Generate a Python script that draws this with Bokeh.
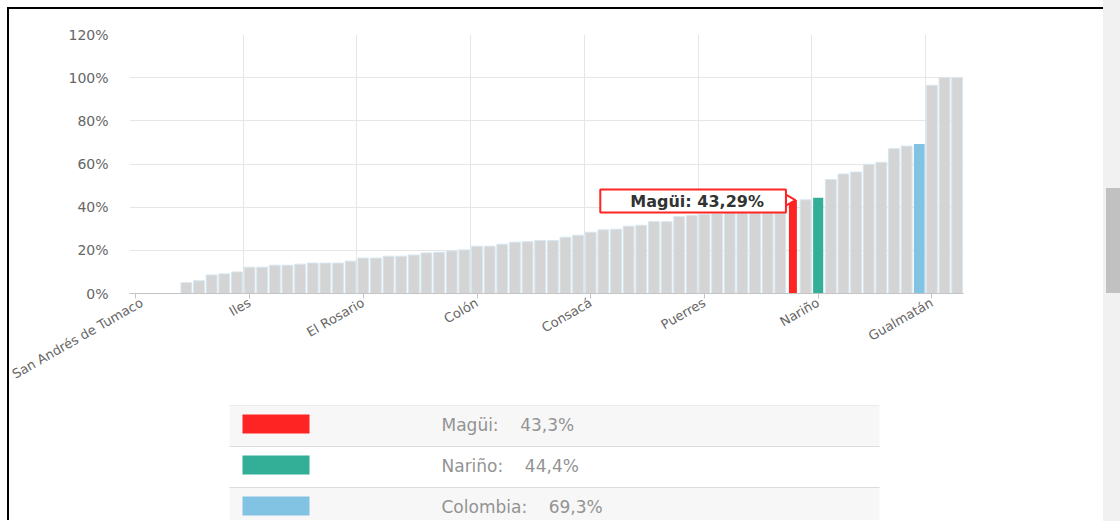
import math
from bokeh.plotting import figure
from bokeh.models import (FixedTicker, PrintfTickFormatter, Range1d, Label,
                          ColumnDataSource, Div)
from bokeh.layouts import column, row
from bokeh.embed import file_html
from bokeh.resources import INLINE
from bokeh.core.properties import value

# ---------------- data ----------------
# share (%) per territory, sorted ascending (66 categories: 64 municipalities, Nariño, Colombia)
values = [0, 0, 0, 0, 5.0, 5.9, 8.6, 9.1, 10.0, 12.2,
          12.2, 13.1, 13.1, 13.6, 14.1, 14.1, 14.1, 15.0, 16.4, 16.4,
          17.3, 17.3, 17.8, 18.8, 19.1, 19.8, 20.2, 21.9, 21.9, 22.8,
          23.8, 24.0, 24.5, 24.5, 26.1, 27.0, 28.4, 29.5, 29.8, 31.2,
          31.6, 33.3, 33.3, 35.6, 36.2, 36.7, 37.0, 37.9, 38.7, 39.6,
          40.6, 41.9, 43.29, 43.4, 44.4, 52.8, 55.4, 56.3, 59.8, 60.8,
          67.1, 68.3, 69.3, 96.5, 100.0, 100.0]

# visible axis labels (category index -> name)
label_idx = [0, 9, 18, 27, 36, 45, 54, 63]
label_names = ["San Andrés de Tumaco", "Iles", "El Rosario", "Colón",
               "Consacá", "Puerres", "Nariño", "Gualmatán"]

# highlighted entries
hl_names = ["Magüi", "Nariño", "Colombia"]
hl_idx = [52, 54, 62]
hl_colors = ["#ff2424", "#33ae97", "#82c3e4"]
hl_widths = [0.63, 0.8, 0.85]

y_ticks = [0, 20, 40, 60, 80, 100, 120]

FONT = "DejaVu Sans"

# ---------------- layout constants (page pixels) ----------------
ORIGIN = 9            # content starts after 7px margin + 2px border
FRAME_L, FRAME_R = 129, 963
W = 1103 - ORIGIN
MAIN_H = 405 - ORIGIN
LEG_TOP, LEG_BOT = 405, 520

# ---------------- main chart ----------------
p = figure(width=W, height=MAIN_H, output_backend="svg", toolbar_location=None,
           x_range=Range1d(-0.5, len(values) - 0.5), y_range=Range1d(0, 120),
           min_border_left=FRAME_L - ORIGIN, min_border_right=ORIGIN + W - FRAME_R,
           min_border_top=34 - ORIGIN, min_border_bottom=405 - 293)
p.outline_line_color = None
p.background_fill_color = "white"
p.border_fill_color = "white"

gray_x = [i for i in range(len(values)) if i not in hl_idx]
gray_src = ColumnDataSource(dict(x=gray_x, top=[values[i] for i in gray_x]))
p.vbar(x="x", top="top", width=0.86, bottom=0, source=gray_src,
       fill_color="#d4d4d4", line_color="#d6e7f1", line_width=1)

hl_src = ColumnDataSource(dict(x=hl_idx, top=[values[i] for i in hl_idx],
                               color=hl_colors, w=hl_widths))
p.vbar(x="x", top="top", width="w", bottom=0, source=hl_src,
       fill_color="color", line_color=None)

# axes
p.xaxis.ticker = FixedTicker(ticks=label_idx)
p.xaxis.major_label_overrides = {i: n for i, n in zip(label_idx, label_names)}
p.xaxis.major_label_orientation = 0.52
p.xaxis.major_label_text_font = FONT
p.xaxis.major_label_text_font_size = "13px"
p.xaxis.major_label_text_color = "#666666"
p.xaxis.axis_line_color = "#c4c4c4"
p.xaxis.major_tick_line_color = "#c4c4c4"
p.xaxis.major_tick_out = 5
p.xaxis.major_tick_in = 0
p.xaxis.minor_tick_line_color = None
p.xaxis.major_label_standoff = 3

p.yaxis.ticker = FixedTicker(ticks=y_ticks)
p.yaxis.formatter = PrintfTickFormatter(format="%d%%")
p.yaxis.major_label_text_font = FONT
p.yaxis.major_label_text_font_size = "14px"
p.yaxis.major_label_text_color = "#666666"
p.yaxis.axis_line_color = None
p.yaxis.major_tick_line_color = None
p.yaxis.minor_tick_line_color = None
p.yaxis.major_tick_out = 0
p.yaxis.major_label_standoff = 21

p.ygrid.ticker = FixedTicker(ticks=y_ticks)
p.ygrid.grid_line_color = "#e6e6e6"
p.xgrid.ticker = FixedTicker(ticks=[i - 0.5 for i in label_idx])
p.xgrid.grid_line_color = "#e6e6e6"

# tooltip for the first highlighted entry
t_i = hl_idx[0]
t_v = values[t_i]
t_text = f"{hl_names[0]}: " + f"{t_v:.2f}".replace(".", ",") + "%"
p.scatter(x=[t_i - 0.3], y=[t_v], marker="triangle", angle=-math.pi / 2,
          size=11, fill_color="white", line_color="#ff2424", line_width=2)
tip = Label(x=t_i - hl_widths[0] / 2, y=t_v, x_offset=-3, y_offset=-1,
            text=t_text, text_align="right", text_baseline="middle",
            text_font=FONT, text_font_size="16px", text_font_style="bold",
            text_color="#333333", background_fill_color="white",
            border_line_color="#ff2424", border_line_width=2,
            padding=dict(left=30, right=22, top=2, bottom=2))
p.add_layout(tip)

# ---------------- legend table (page-pixel coordinates) ----------------
lg = figure(width=W, height=LEG_BOT - LEG_TOP, output_backend="svg",
            toolbar_location=None,
            x_range=Range1d(FRAME_L, FRAME_R), y_range=Range1d(LEG_BOT, LEG_TOP),
            min_border_left=FRAME_L - ORIGIN, min_border_right=ORIGIN + W - FRAME_R,
            min_border_top=0, min_border_bottom=0)
lg.axis.visible = False
lg.grid.visible = False
lg.outline_line_color = None

row_h = 41
rows = list(range(len(hl_names)))
row_top = [LEG_TOP + r * row_h for r in rows]
row_bg = ["#f7f7f7" if r % 2 == 0 else "#ffffff" for r in rows]
lg.quad(left=229, right=879, top=row_top, bottom=[t + row_h for t in row_top],
        fill_color=row_bg, line_color=None)
lg.segment(x0=229, x1=879, y0=row_top, y1=row_top, line_color="#dcdcdc",
           line_width=1)
lg.quad(left=242, right=309, top=[t + 9 for t in row_top],
        bottom=[t + 28 for t in row_top], fill_color=hl_colors, line_color=None)
GAP = "\u00a0" * 4
leg_txt = [n + ":" + GAP + f"{values[i]:.1f}".replace(".", ",") + "%"
           for n, i in zip(hl_names, hl_idx)]
lg.text(x=441, y=[t + 19 for t in row_top], text=leg_txt,
        text_font=value(FONT), text_font_size="17px", text_color="#939393",
        text_baseline="middle", text_align="left")

# ---------------- page ----------------
main = column(p, lg, margin=(7, 0, 0, 7),
              styles={"border-top": "2px solid #000000",
                      "border-left": "2px solid #000000"})
scroll = Div(width=17, height=521, margin=0,
             styles={"background-color": "#f1f1f1"},
             text='<div style="margin-top:188px;margin-left:3px;width:14px;'
                  'height:105px;background:#c1c1c1"></div>')
page = row(main, scroll)

open("out.html", "w").write(file_html(page, INLINE))
